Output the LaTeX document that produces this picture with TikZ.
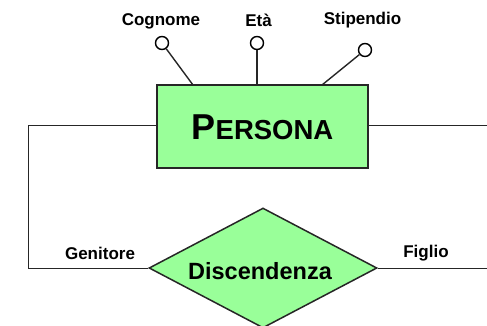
\documentclass[tikz,border=0pt]{standalone}
\usepackage{fontspec}
\setmainfont{Liberation Sans}
\usetikzlibrary{shapes.geometric}
\definecolor{ergreen}{RGB}{153,255,153}
\tikzset{
  entity/.style={draw=black!85, line width=1.5pt, fill=ergreen, minimum width=211pt, minimum height=83pt, inner sep=0pt},
  relation/.style={diamond, draw=black!85, line width=1.5pt, fill=ergreen, minimum width=228pt, minimum height=120pt, inner sep=0pt, shape aspect=1.9},
  attr/.style={circle, draw=black, line width=1.4pt, fill=white, minimum size=13pt, inner sep=0pt},
  attrline/.style={line width=1.4pt, draw=black!85},
  conn/.style={line width=0.9pt, draw=black!85},
  lbl/.style={font=\fontsize{17}{17}\selectfont\bfseries, inner sep=0pt}
}
\begin{document}
\begin{tikzpicture}[x=1pt,y=-1pt]
\useasboundingbox (0,0) rectangle (487,326);
\node[entity] (persona) at (262.5,126.5) {};
\node[relation] (disc) at (263,268) {};
\node[font=\bfseries, inner sep=0pt] (pt) at (262.5,127) {\fontsize{36}{36}\selectfont P\fontsize{27.5}{28}\selectfont ERSONA};
\node[font=\fontsize{23.5}{24}\selectfont\bfseries, inner sep=0pt] (dt) at (260,271) {Discendenza};
% connectors
\coordinate (lc) at (28,125);
\coordinate (lb) at (28,268);
\coordinate (re) at (490,125);
\coordinate (rd) at (490,268);
\draw[conn] (persona.west |- lc) -- (lc) -- (lb) -- (disc.west);
\draw[conn] (persona.east |- re) -- (re);
\draw[conn] (disc.east) -- (rd);
% attributes
\node[attr] (a1) at (162,43) {};
\node[attr] (a2) at (257,43) {};
\node[attr] (a3) at (365,50) {};
\coordinate (b1) at (193,85);
\coordinate (b2) at (257,85);
\coordinate (b3) at (322,85);
\draw[attrline] (a1) -- (b1);
\draw[attrline] (a2) -- (b2);
\draw[attrline] (a3) -- (b3);
\node[lbl] (l1) at (161,21) {Cognome};
\node[lbl] (l2) at (258.5,20) {Età};
\node[lbl] (l3) at (362.5,20) {Stipendio};
\node[lbl] (l4) at (100,253) {Genitore};
\node[lbl] (l5) at (426,253) {Figlio};
\end{tikzpicture}
\end{document}
